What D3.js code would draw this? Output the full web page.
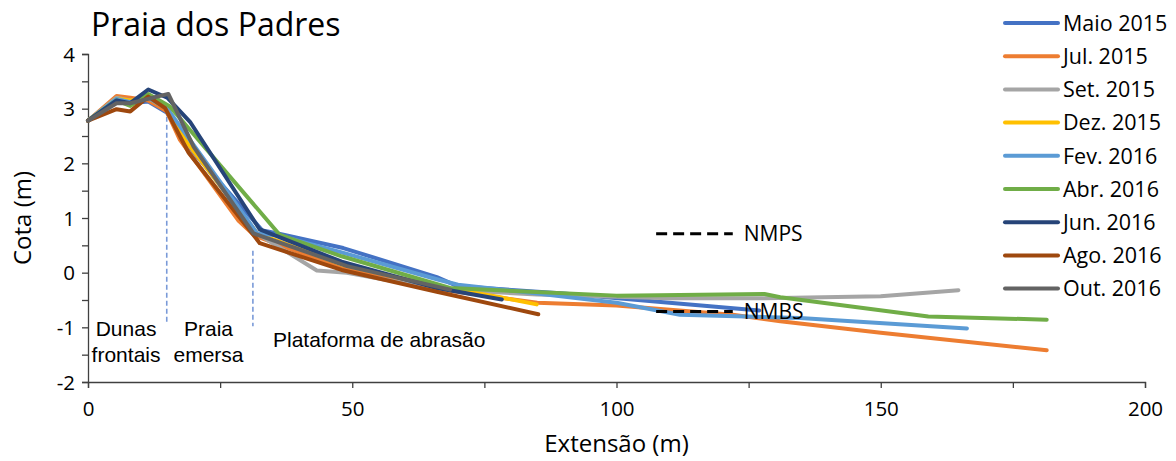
<!DOCTYPE html>
<html>
<head>
<meta charset="utf-8">
<script src="https://cdn.jsdelivr.net/npm/d3@7"></script>
<style>
  html, body { margin: 0; padding: 0; background: #fff; }
  svg { display: block; }
  text { font-family: "Open Sans", sans-serif; fill: #000; }
</style>
</head>
<body>
<svg id="chart"></svg>
<script>
const width = 1176;
const height = 461;

// survey labels and colours (Excel palette)
const surveys = ["Maio 2015", "Jul. 2015", "Set. 2015", "Dez. 2015", "Fev. 2016",
  "Abr. 2016", "Jun. 2016", "Ago. 2016", "Out. 2016"];
const colors = ["#4472C4", "#ED7D31", "#A5A5A5", "#FFC000", "#5B9BD5",
  "#70AD47", "#264478", "#9E480E", "#636363"];

// profiles: [extensão (m), cota (m)]
const maio2015 = [[0, 2.78], [5.4, 3.15], [8, 3.1], [11.4, 3.13], [14.9, 2.93], [19, 2.3],
  [33, 0.77], [35.7, 0.72], [48.3, 0.45], [66, -0.08], [70, -0.25], [90, -0.38], [110, -0.55], [127, -0.69]];
const jul2015 = [[0, 2.78], [5.4, 3.23], [8, 3.2], [11.4, 3.15], [14.9, 2.95], [17.4, 2.43],
  [28.5, 0.95], [31.5, 0.68], [48, 0.08], [66, -0.3], [85, -0.55], [100, -0.6], [122, -0.77],
  [131, -0.89], [150, -1.1], [181.4, -1.42]];
const set2015 = [[0, 2.78], [5.4, 3.2], [8, 3.15], [11.4, 3.2], [15, 3.0], [19, 2.35],
  [31.9, 0.72], [43.3, 0.04], [49, 0], [66, -0.3], [85, -0.4], [110, -0.47], [128, -0.47],
  [150, -0.43], [164.7, -0.32]];
const dez2015 = [[0, 2.78], [5.4, 3.18], [8, 3.15], [11.4, 3.2], [15, 3.0], [19, 2.35],
  [32, 0.72], [48, 0.15], [66, -0.25], [78, -0.45], [84.9, -0.58]];
const fev2016 = [[0, 2.78], [5.4, 3.18], [8, 3.12], [11.4, 3.2], [15, 3.0], [19.5, 2.4],
  [32, 0.72], [36, 0.68], [48, 0.37], [66, -0.12], [70, -0.22], [85, -0.38], [100, -0.55],
  [112, -0.77], [134.7, -0.83], [166.3, -1.02]];
const abr2016 = [[0, 2.78], [5.4, 3.15], [8, 3.05], [11.4, 3.27], [15.5, 3.04], [36.3, 0.69],
  [48, 0.3], [68.5, -0.28], [100, -0.42], [128, -0.39], [131, -0.45], [159, -0.8], [181.4, -0.86]];
const jun2016 = [[0, 2.78], [5.4, 3.15], [8, 3.1], [11.4, 3.35], [15, 3.2], [19.3, 2.76],
  [32.5, 0.79], [48, 0.2], [66, -0.28], [78.3, -0.49]];
const ago2016 = [[0, 2.78], [5.4, 2.99], [8, 2.95], [11.4, 3.22], [14.6, 3.01], [19, 2.2],
  [32.5, 0.54], [48, 0.05], [66, -0.35], [85.2, -0.76]];
const out2016 = [[0, 2.78], [5.4, 3.1], [8, 3.1], [15.2, 3.27], [20, 2.3], [31.3, 0.72],
  [49, 0.12], [68.5, -0.31]];
const profiles = [maio2015, jul2015, set2015, dez2015, fev2016, abr2016, jun2016, ago2016, out2016];

// tide levels
const tideLevels = [{ name: "NMPS", y: 0.71, x0: 107.5, x1: 122 }, { name: "NMBS", y: -0.71, x0: 107.5, x1: 122 }];

// zone boundaries (x, top, bottom)
const zoneBounds = [[14.9, 3.0, -0.9], [31.2, 0.4, -0.98]];

// zone labels: text lines, anchor x, baseline y (data units)
const zoneLabels = [
  { lines: ["Dunas", "frontais"], x: 7.2, y: -1.15, anchor: "middle" },
  { lines: ["Praia", "emersa"], x: 22.8, y: -1.15, anchor: "middle" },
  { lines: ["Plataforma de abrasão"], x: 35, y: -1.36, anchor: "start" }
];

const xTicks = [0, 50, 100, 150, 200];
const yTicks = [-2, -1, 0, 1, 2, 3, 4];

const margin = { left: 88, right: 31, top: 54, bottom: 79 };

const svg = d3.select("#chart")
  .attr("width", width)
  .attr("height", height)
  .attr("viewBox", [0, 0, width, height]);

const x = d3.scaleLinear().domain([0, 200]).range([margin.left, width - margin.right]);
const y = d3.scaleLinear().domain([-2, 4]).range([height - margin.bottom, margin.top]);

// axes
const xAxis = svg.append("g")
  .attr("transform", `translate(0,${y(-2)})`)
  .call(d3.axisBottom(x).tickValues(d3.range(0, 201, 25)).tickSize(6)
    .tickFormat(d => xTicks.includes(d) ? d : ""));
const yAxis = svg.append("g")
  .attr("transform", `translate(${x(0)},0)`)
  .call(d3.axisLeft(y).tickValues(d3.range(-2, 4.01, 0.5)).tickSize(6)
    .tickFormat(d => yTicks.includes(d) ? d : ""));

[xAxis, yAxis].forEach(a => {
  a.select(".domain").attr("stroke", "#404040").attr("stroke-width", 1.3);
  a.selectAll(".tick line").attr("stroke", "#404040").attr("stroke-width", 1.3);
  a.selectAll(".tick text").attr("fill", "#000").style("font-size", "20.5px")
    .style("font-family", "'Open Sans', sans-serif");
});
xAxis.selectAll(".tick text").attr("dy", "1.2em");
yAxis.selectAll(".tick text").attr("x", -13).attr("dy", "0.35em");

svg.append("text")
  .attr("x", (x(0) + x(200)) / 2)
  .attr("y", 452)
  .attr("text-anchor", "middle")
  .style("font-size", "24px")
  .text("Extensão (m)");

svg.append("text")
  .attr("transform", `translate(31,${(y(-2) + y(4)) / 2}) rotate(-90)`)
  .attr("text-anchor", "middle")
  .style("font-size", "24px")
  .text("Cota (m)");

svg.append("text")
  .attr("x", 91)
  .attr("y", 36)
  .style("font-size", "32px")
  .text("Praia dos Padres");

// zone boundaries
svg.selectAll(".zone")
  .data(zoneBounds)
  .join("line")
  .attr("x1", d => x(d[0])).attr("x2", d => x(d[0]))
  .attr("y1", d => y(d[1])).attr("y2", d => y(d[2]))
  .attr("stroke", "#7a9ad8")
  .attr("stroke-width", 1.6)
  .attr("stroke-dasharray", "5,3");

// zone labels
zoneLabels.forEach(z => {
  const t = svg.append("text")
    .attr("text-anchor", z.anchor)
    .style("font-family", "'Liberation Sans', Arial, sans-serif")
    .style("font-size", "21px");
  z.lines.forEach((l, i) => {
    t.append("tspan").attr("x", x(z.x)).attr("y", y(z.y) + i * 26).text(l);
  });
});

// profile lines
const line = d3.line().x(d => x(d[0])).y(d => y(d[1]));
svg.append("g")
  .selectAll("path")
  .data(profiles)
  .join("path")
  .attr("d", line)
  .attr("fill", "none")
  .attr("stroke", (d, i) => colors[i])
  .attr("stroke-width", 4)
  .attr("stroke-linejoin", "round")
  .attr("stroke-linecap", "round");

// tide levels
const tide = svg.append("g").selectAll("g").data(tideLevels).join("g");
tide.append("line")
  .attr("x1", d => x(d.x0)).attr("x2", d => x(d.x1))
  .attr("y1", d => y(d.y)).attr("y2", d => y(d.y))
  .attr("stroke", "#000")
  .attr("stroke-width", 3)
  .attr("stroke-dasharray", "11,6");
tide.append("text")
  .attr("x", d => x(d.x1) + 11)
  .attr("y", d => y(d.y))
  .attr("dy", "0.36em")
  .style("font-size", "21px")
  .text(d => d.name);

// legend
const legend = svg.append("g")
  .selectAll("g")
  .data(surveys)
  .join("g")
  .attr("transform", (d, i) => `translate(1005,${23 + i * 33.2})`);
legend.append("line")
  .attr("x1", 0).attr("x2", 53)
  .attr("stroke", (d, i) => colors[i])
  .attr("stroke-width", 4)
  .attr("stroke-linecap", "round");
legend.append("text")
  .attr("x", 58)
  .attr("dy", "0.36em")
  .style("font-size", "21.5px")
  .text(d => d);
</script>
</body>
</html>
